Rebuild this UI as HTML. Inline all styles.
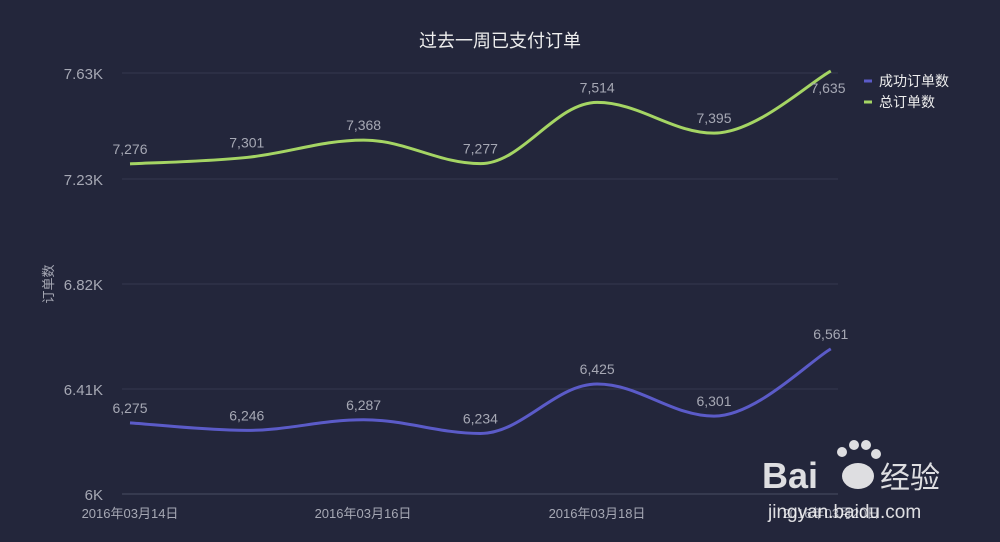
<!DOCTYPE html>
<html><head><meta charset="utf-8"><style>
html,body{margin:0;padding:0;background:#23263b;width:1000px;height:542px;overflow:hidden}
svg{display:block}
text{font-family:"Liberation Sans","Noto Sans CJK SC",sans-serif}
</style></head><body>
<svg id="s" width="1000" height="542" xmlns="http://www.w3.org/2000/svg">
<rect width="1000" height="542" fill="#23263b"/>
<text x="500" y="47" fill="#eeeeee" font-size="18" text-anchor="middle">过去一周已支付订单</text>
<g stroke="#35384f" stroke-width="1">
<line x1="122" x2="838" y1="73" y2="73"/><line x1="122" x2="838" y1="179" y2="179"/>
<line x1="122" x2="838" y1="284" y2="284"/><line x1="122" x2="838" y1="389" y2="389"/>
</g>
<line x1="122" x2="838" y1="494" y2="494" stroke="#4a4d63" stroke-width="1"/>
<g fill="#a6a8b4" font-size="15" text-anchor="end">
<text x="103" y="79">7.63K</text><text x="103" y="185">7.23K</text>
<text x="103" y="290">6.82K</text><text x="103" y="395">6.41K</text><text x="103" y="500">6K</text>
</g>
<text transform="translate(53,284) rotate(-90)" fill="#a6a8b4" font-size="13" text-anchor="middle">订单数</text>
<g fill="#a6a8b4" font-size="13" text-anchor="middle">
<text x="130" y="518">2016年03月14日</text><text x="363" y="518">2016年03月16日</text>
<text x="597" y="518">2016年03月18日</text><text x="831" y="518">2016年03月20日</text>
</g>
<g id="series"></g>
<line x1="864" x2="872" y1="81" y2="81" stroke="#5b5bc8" stroke-width="3"/>
<text x="879" y="86" fill="#eeeeee" font-size="14">成功订单数</text>
<line x1="864" x2="872" y1="102" y2="102" stroke="#a5d564" stroke-width="3"/>
<text x="879" y="107" fill="#eeeeee" font-size="14">总订单数</text>
<text x="762" y="488" fill="#ffffff" fill-opacity="0.85" font-size="36" font-weight="bold">Bai</text>
<g fill="#ffffff" fill-opacity="0.85">
<ellipse cx="858" cy="476" rx="16" ry="13"/>
<circle cx="842" cy="452" r="5"/><circle cx="854" cy="445" r="5"/><circle cx="866" cy="445" r="5"/><circle cx="876" cy="454" r="5"/>
</g>
<text x="880" y="488" fill="#ffffff" fill-opacity="0.85" font-size="30">经验</text>
<text x="768" y="518" fill="#ffffff" fill-opacity="0.85" font-size="19">jingyan.baidu.com</text>
</svg>
<script>
var xs=[130,246.8,363.6,480.4,597.2,714,830.8];
function y(v){return 494-(v-6000)*0.2587;}
var data=[[[7276,7301,7368,7277,7514,7395,7635],"#a5d564"],[[6275,6246,6287,6234,6425,6301,6561],"#5b5bc8"]];
var g=document.getElementById('series'),h='';
data.forEach(function(d,k){
 var p=d[0].map(function(v,i){return [xs[i],y(v)];});
 var s='M'+p[0][0]+','+p[0][1];
 for(var i=0;i<p.length-1;i++){
  var p0=p[Math.max(i-1,0)],p1=p[i],p2=p[i+1],p3=p[Math.min(i+2,p.length-1)];
  var t=0.18;
  var c1=[p1[0]+(p2[0]-p0[0])*t,p1[1]+(p2[1]-p0[1])*t];
  var c2=[p2[0]-(p3[0]-p1[0])*t,p2[1]-(p3[1]-p1[1])*t];
  if(i>0&&(p1[1]-p0[1])*(p2[1]-p1[1])<=0)c1[1]=p1[1];
  if(i<p.length-2&&(p2[1]-p1[1])*(p3[1]-p2[1])<=0)c2[1]=p2[1];
  s+=' C'+c1+' '+c2+' '+p2;
 }
 h+='<path d="'+s+'" fill="none" stroke="'+d[1]+'" stroke-width="3"/>';
 p.forEach(function(q,i){
  var ly=q[1]-10, lx=q[0];
  if(k==0&&i==6){ly=93;lx=828;}
  h+='<text x="'+lx+'" y="'+ly+'" fill="#a6a8b4" font-size="14" text-anchor="middle">'+d[0][i].toLocaleString('en-US')+'</text>';});
});
g.innerHTML=h;
</script>
</body></html>
